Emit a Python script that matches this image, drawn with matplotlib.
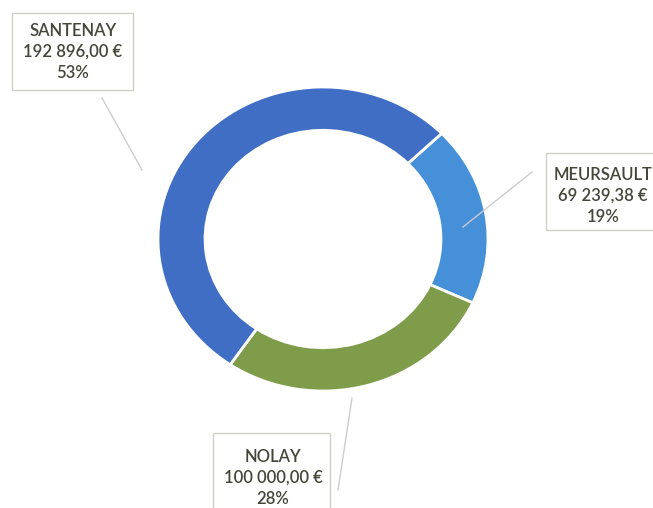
import matplotlib.pyplot as plt

# montants par commune
communes = ['MEURSAULT', 'NOLAY', 'SANTENAY']
montants = [69239.38, 100000.00, 192896.00]
montants_txt = ['69 239,38 €', '100 000,00 €', '192 896,00 €']
couleurs = ['#4690da', '#7f9c4b', '#3f6ec4']

TXT = '#45463a'

fig = plt.figure(figsize=(6.53, 5.08), dpi=100)
W, H = 653, 508
cx, cy, rx, ry = 323, 239, 165, 152
ax = fig.add_axes([(cx - rx) / W, (H - cy - ry) / H, 2 * rx / W, 2 * ry / H])

total = sum(montants)
ax.pie(montants, colors=couleurs, startangle=44, counterclock=False,
       radius=1.0, wedgeprops=dict(width=0.285, edgecolor='white', linewidth=2))
ax.set_aspect('auto')
ax.set_xlim(-1, 1)
ax.set_ylim(-1, 1)
ax.axis('off')

# étiquettes : (x, y) du centre du texte en pixels, boîte, ligne de rappel
etiquettes = {
    'SANTENAY': dict(xy=(73, 52), boite=(12, 13, 121, 77), ligne=((102, 98), (142, 170))),
    'MEURSAULT': dict(xy=(603, 196), boite=(546, 153, 120, 77), ligne=((532, 172), (463, 227))),
    'NOLAY': dict(xy=(273, 478), boite=(213, 433, 117, 90), ligne=((352, 398), (338, 490))),
}

for nom, val, txt in zip(communes, montants, montants_txt):
    e = etiquettes[nom]
    pct = round(100 * val / total)
    bx, by, bw, bh = e['boite']
    fig.patches.append(plt.Rectangle((bx / W, 1 - (by + bh) / H), bw / W, bh / H,
                                     transform=fig.transFigure, facecolor='white',
                                     edgecolor='#d0d0c8', linewidth=1.0, zorder=1))
    (x0, y0), (x1, y1) = e['ligne']
    fig.add_artist(plt.Line2D([x0 / W, x1 / W], [1 - y0 / H, 1 - y1 / H],
                              transform=fig.transFigure, color='#cccccc',
                              linewidth=1.0, zorder=2))
    x, y = e['xy']
    fig.text(x / W, 1 - y / H, f'{nom}\n{txt}\n{pct}%', ha='center', va='center',
             fontsize=12, family='Lato', fontweight='semibold', color=TXT,
             linespacing=1.38, zorder=3)

fig.savefig('out.png', dpi=100)
